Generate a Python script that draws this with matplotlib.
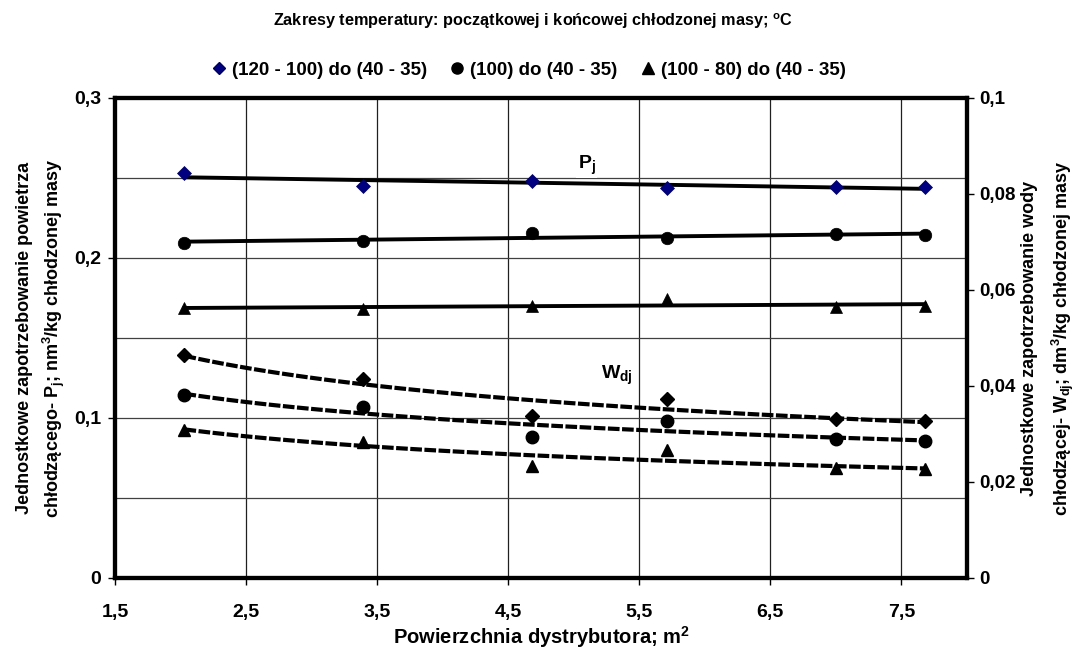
import numpy as np
import matplotlib
matplotlib.use("Agg")
import matplotlib.pyplot as plt
from matplotlib.ticker import FixedLocator, FuncFormatter, MultipleLocator

plt.rcParams['font.family'] = ['Liberation Sans', 'DejaVu Sans']
plt.rcParams['font.weight'] = 'bold'
plt.rcParams['mathtext.fontset'] = 'custom'
plt.rcParams['mathtext.rm'] = 'Liberation Sans:bold'
plt.rcParams['mathtext.it'] = 'Liberation Sans:bold'
plt.rcParams['mathtext.bf'] = 'Liberation Sans:bold'
plt.rcParams['mathtext.default'] = 'rm'

# distributor surface area, m2
area = [2.03, 3.39, 4.68, 5.71, 7.0, 7.68]

series_names = ["(120 - 100) do (40 - 35)", "(100) do (40 - 35)", "(100 - 80) do (40 - 35)"]

# P_j - air demand (left axis)
p_120 = [0.2533, 0.2452, 0.2480, 0.2435, 0.2446, 0.2446]
p_100 = [0.2092, 0.2108, 0.2158, 0.2127, 0.2148, 0.2142]
p_80 = [0.1685, 0.1680, 0.1700, 0.1742, 0.1696, 0.1700]

# W_dj - water demand (right axis)
w_120 = [0.0465, 0.0415, 0.0338, 0.0372, 0.0331, 0.0327]
w_100 = [0.0381, 0.0357, 0.0294, 0.0326, 0.0289, 0.0286]
w_80 = [0.0308, 0.0284, 0.0234, 0.0267, 0.0229, 0.0226]

x_ticks = [1.5, 2.5, 3.5, 4.5, 5.5, 6.5, 7.5]

def comma(v, pos=None):
    s = ('%.2f' % v).rstrip('0').rstrip('.')
    return s.replace('.', ',')

fig = plt.figure(figsize=(10.77, 6.55), dpi=100)
ax = fig.add_axes([0.1068, 0.1176, 0.7910, 0.7328])
ax2 = ax.twinx()

x = np.array(area)
xs = np.linspace(x.min(), x.max(), 100)
markers = ['D', 'o', '^']
msizes = [7.5, 9, 9]

for i, (p, w) in enumerate(zip([p_120, p_100, p_80], [w_120, w_100, w_80])):
    # linear trend for P
    k = np.polyfit(x, p, 1)
    ax.plot(xs, np.polyval(k, xs), color='black', lw=2.8, zorder=3)
    face = '#000080' if i == 0 else 'black'
    ax.plot(x, p, ls='none', marker=markers[i], ms=msizes[i], mfc=face,
            mec='black' if i else '#000060', mew=0.5, zorder=4)
    # power trend for W
    kw = np.polyfit(np.log(x), np.log(w), 1)
    ax2.plot(xs, np.exp(np.polyval(kw, np.log(xs))), color='black', lw=3,
             ls=(0, (2.8, 0.6)), zorder=3)
    ax2.plot(x, w, ls='none', marker=markers[i], ms=msizes[i], mfc='black',
             mec='black', zorder=4)

ax.set_xlim(1.5, 8.0)
ax.set_ylim(0, 0.3)
ax2.set_ylim(0, 0.1)

ax.xaxis.set_major_locator(FixedLocator(x_ticks))
ax.xaxis.set_major_formatter(FuncFormatter(comma))
ax.yaxis.set_major_locator(MultipleLocator(0.1))
ax.yaxis.set_minor_locator(MultipleLocator(0.05))
ax.yaxis.set_major_formatter(FuncFormatter(comma))
ax2.yaxis.set_major_locator(MultipleLocator(0.02))
ax2.yaxis.set_major_formatter(FuncFormatter(comma))

ax.grid(True, which='major', axis='x', color='#202020', lw=0.9)
ax.grid(True, which='both', axis='y', color='#404040', lw=0.9)
ax.tick_params(axis='y', which='minor', length=0)
for a in (ax, ax2):
    for s in a.spines.values():
        s.set_linewidth(3)
    a.tick_params(which='major', length=5, width=1, labelsize=14, pad=4)
ax.tick_params(axis='x', pad=14)
ax.tick_params(axis='y', pad=5)
ax2.tick_params(axis='y', labelsize=13.5)
ax.set_axisbelow(True)

ax.set_xlabel("Powierzchnia dystrybutora; m$^2$", fontsize=14.5, fontweight='bold', labelpad=2)
ax.set_ylabel("Jednostkowe zapotrzebowanie powietrza\nchłodzącego- P$_j$; nm$^3$/kg chłodzonej masy",
              fontsize=13, fontweight='bold', labelpad=5, linespacing=1.45)
ax2.set_ylabel("Jednostkowe zapotrzebowanie wody\nchłodzącej- W$_{dj}$; dm$^3$/kg chłodzonej masy",
               fontsize=13, fontweight='bold', labelpad=4, linespacing=1.6)

ax.text(5.1, 0.258, "P$_j$", fontsize=14, ha='center', va='center',
        bbox=dict(facecolor='white', edgecolor='none', pad=1), zorder=5)
ax.text(5.33, 0.1265, "W$_{dj}$", fontsize=14, ha='center', va='center',
        bbox=dict(facecolor='white', edgecolor='none', pad=1), zorder=5)

fig.text(0.495, 0.968, "Zakresy temperatury: początkowej i końcowej chłodzonej masy; $^o$C",
         fontsize=11.7, fontweight='bold', ha='center', va='center')

handles = [
    plt.Line2D([], [], ls='none', marker='D', ms=6, mfc='#000080', mec='#000060'),
    plt.Line2D([], [], ls='none', marker='o', ms=8, mfc='black', mec='black'),
    plt.Line2D([], [], ls='none', marker='^', ms=8, mfc='black', mec='black'),
]
fig.legend(handles, series_names, loc='center', bbox_to_anchor=(0.49, 0.893), ncol=3,
           frameon=False, fontsize=13.5, handletextpad=0.2, columnspacing=1.1,
           handlelength=1.0)

fig.savefig("out.png", dpi=100)
